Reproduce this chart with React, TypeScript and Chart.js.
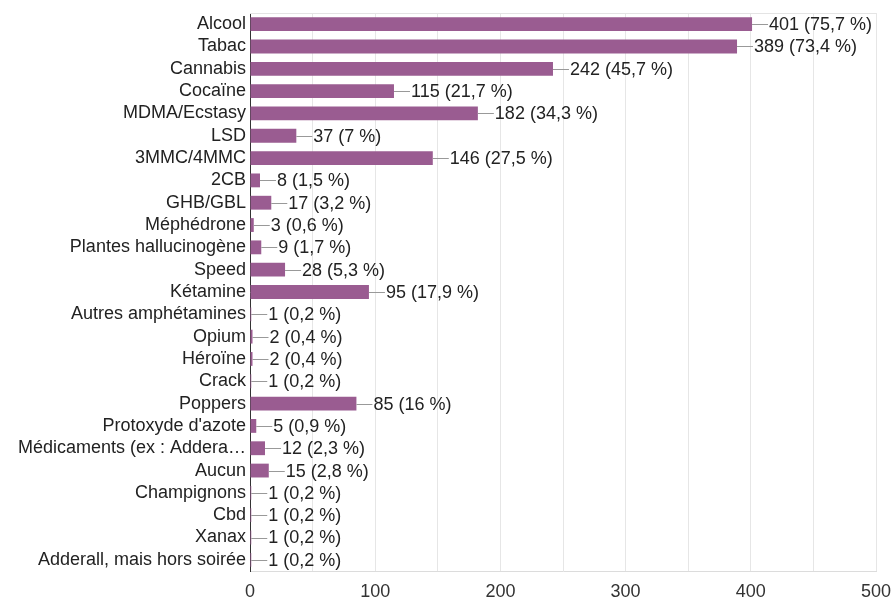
import React, { useEffect, useRef } from "react";
import { Chart, registerables } from "chart.js";
Chart.register(...registerables);

const categories = [
  "Alcool", "Tabac", "Cannabis", "Cocaïne", "MDMA/Ecstasy", "LSD", "3MMC/4MMC", "2CB",
  "GHB/GBL", "Méphédrone", "Plantes hallucinogène", "Speed", "Kétamine",
  "Autres amphétamines", "Opium", "Héroïne", "Crack", "Poppers", "Protoxyde d'azote",
  "Médicaments (ex : Addera…", "Aucun", "Champignons", "Cbd", "Xanax", "Adderall, mais hors soirée",
];
const counts = [401, 389, 242, 115, 182, 37, 146, 8, 17, 3, 9, 28, 95, 1, 2, 2, 1, 85, 5, 12, 15, 1, 1, 1, 1];
const percents = ["75,7", "73,4", "45,7", "21,7", "34,3", "7", "27,5", "1,5", "3,2", "0,6", "1,7", "5,3", "17,9",
  "0,2", "0,4", "0,4", "0,2", "16", "0,9", "2,3", "2,8", "0,2", "0,2", "0,2", "0,2"];
const xTicks = [0, 100, 200, 300, 400, 500];

const FONT = "Liberation Sans, Arial, Helvetica, sans-serif";

const valueLabels = {
  id: "valueLabels",
  afterDatasetsDraw(chart: any) {
    const ctx = chart.ctx;
    const meta = chart.getDatasetMeta(0);
    ctx.save();
    ctx.font = `18px ${FONT}`;
    ctx.textBaseline = "middle";
    ctx.textAlign = "left";
    meta.data.forEach((bar: any, i: number) => {
      const x = bar.x;
      const y = bar.y;
      ctx.strokeStyle = "#999";
      ctx.lineWidth = 1;
      ctx.beginPath();
      ctx.moveTo(x, Math.round(y) + 0.5);
      ctx.lineTo(x + 16, Math.round(y) + 0.5);
      ctx.stroke();
      ctx.fillStyle = "#222";
      ctx.fillText(`${counts[i]} (${percents[i]} %)`, x + 17, y + 1);
    });
    const a = chart.chartArea;
    ctx.strokeStyle = "#e4e4e4";
    ctx.beginPath();
    ctx.moveTo(a.left, a.top + 0.5);
    ctx.lineTo(a.right, a.top + 0.5);
    ctx.stroke();
    ctx.restore();
  },
};

export default function App() {
  const ref = useRef<HTMLCanvasElement>(null);
  useEffect(() => {
    const chart = new Chart(ref.current!, {
      type: "bar",
      data: {
        labels: categories,
        datasets: [
          {
            data: counts,
            backgroundColor: "#9a5c91",
            categoryPercentage: 1,
            barPercentage: 0.62,
          },
        ],
      },
      options: {
        indexAxis: "y",
        animation: false,
        responsive: false,
        layout: { padding: { top: 13, right: 19, left: 0, bottom: 0 } },
        plugins: { legend: { display: false }, tooltip: { enabled: false } },
        scales: {
          x: {
            min: 0,
            max: 500,
            ticks: {
              stepSize: 50,
              autoSkip: false,
              maxRotation: 0,
              padding: 10,
              color: "#333",
              font: { family: FONT, size: 18 },
              callback: (v: any) => (xTicks.includes(Number(v)) ? String(v) : ""),
            },
            grid: { color: "#e6e6e6", drawTicks: false },
            border: { color: "#dcdcdc" },
            afterFit: (s: any) => {
              s.height = 30;
              s.paddingRight = 0;
              s.paddingLeft = 0;
            },
          },
          y: {
            ticks: {
              autoSkip: false,
              padding: 4,
              color: "#222",
              font: { family: FONT, size: 18 },
            },
            grid: { display: false, drawTicks: false },
            border: { color: "#333", width: 1 },
            afterFit: (s: any) => {
              s.width = 250;
              s.paddingTop = 0;
              s.paddingBottom = 0;
            },
          },
        },
      },
      plugins: [valueLabels],
    });
    return () => chart.destroy();
  }, []);
  return (
    <div style={{ position: "absolute", left: 0, top: 0, width: 895, height: 601, background: "#fff" }}>
      <canvas ref={ref} width={895} height={601} />
    </div>
  );
}
